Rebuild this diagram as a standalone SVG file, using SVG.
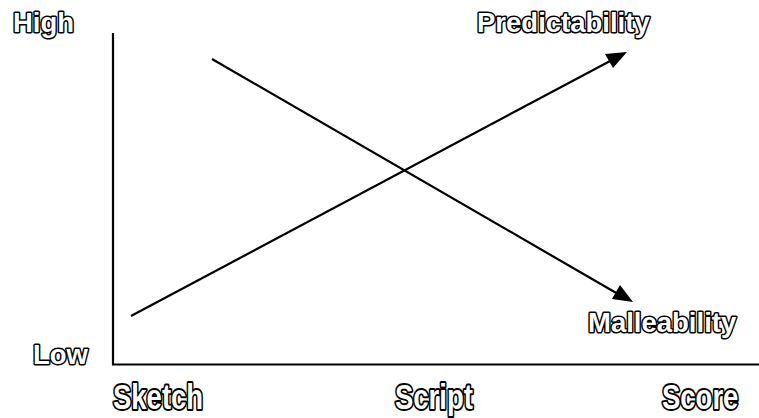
<svg xmlns="http://www.w3.org/2000/svg" width="759" height="418" viewBox="0 0 759 418">
<defs>
<style>
.lbl{font-family:"Liberation Sans",Arial,sans-serif;font-weight:bold;font-size:27.5px;fill:#fff;stroke:#000;stroke-width:3px;stroke-linejoin:round;paint-order:stroke}
.ln{stroke:#000;stroke-width:2.2;fill:none}
.ah{fill:#000}
</style>
</defs>
<rect width="759" height="418" fill="#fff"/>
<g id="axes">
<line class="ln" x1="113" y1="33" x2="113" y2="365"/>
<line class="ln" x1="112" y1="364.5" x2="759" y2="364.5"/>
</g>
<g id="connectors">
<g id="predictability-line">
<line class="ln" x1="131" y1="316" x2="612" y2="60"/>
<polygon class="ah" points="627,52 605,54 613,68"/>
</g>
<g id="malleability-line">
<line class="ln" x1="212" y1="59" x2="618" y2="294"/>
<polygon class="ah" points="633,302 612,299 620,285"/>
</g>
</g>
<g id="high"><text class="lbl" x="13" y="32">High</text></g>
<g id="low"><text class="lbl" x="33" y="364">Low</text></g>
<g id="predictability"><text class="lbl" x="477" y="32">Predictability</text></g>
<g id="malleability"><text class="lbl" x="588" y="332">Malleability</text></g>
<g id="sketch"><text class="lbl" transform="translate(113,409) scale(1,1.3)">Sketch</text></g>
<g id="script"><text class="lbl" transform="translate(395,409) scale(1,1.3)">Script</text></g>
<g id="score"><text class="lbl" transform="translate(662,409) scale(1,1.3)">Score</text></g>
</svg>
